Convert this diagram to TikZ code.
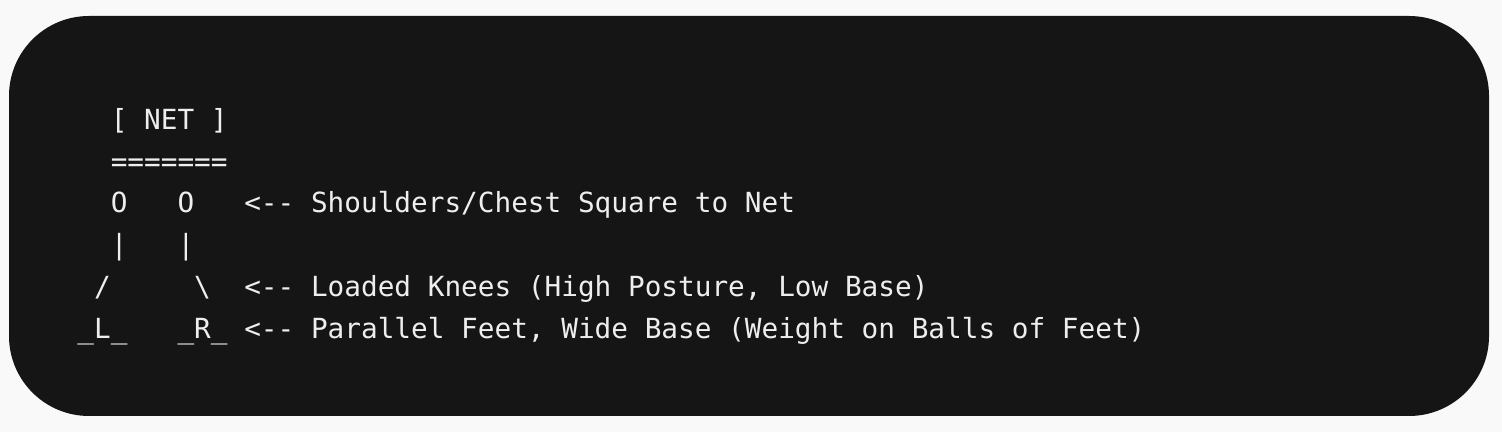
\documentclass[tikz,border=0pt]{standalone}
\usepackage{fontspec}
\setmonofont{DejaVu Sans Mono}
\definecolor{pagebg}{HTML}{F9F9F9}
\definecolor{termbg}{HTML}{151515}
\definecolor{termfg}{HTML}{EEEEEE}
\newlength{\cw}
\newcommand{\blank}[1]{\hspace*{#1\cw}}
\tikzset{
  asc/.style={anchor=base west,inner sep=0pt,text=termfg,
    font=\ttfamily\fontsize{13.86pt}{21pt}\selectfont},
}
\begin{document}
\settowidth{\cw}{\ttfamily\fontsize{13.86pt}{21pt}\selectfont x}
\begin{tikzpicture}[x=0.5pt,y=0.5pt]
	\fill[pagebg] (0,0) rectangle (1502,432);
	\fill[termbg,rounded corners=40pt] (9,16) rectangle (1489,416);

	% one column = 16.69 px, column 0 at x = 77
	\coordinate (Col0) at (77,0);

	\node[asc] (net)    at (77+2*16.69,302) {[ NET ]};
	\node[asc] (bar)    at (77+2*16.69,260) {=======};
	\node[asc] (heads)  at (77+2*16.69,219) {O\blank{3}O};
	\node[asc] (arms)   at (77+2*16.69,177) {|\blank{3}|};
	\node[asc] (knees)  at (77+1*16.69,135) {/\blank{5}\textbackslash};
	\node[asc] (feet)   at (77,93) {\_L\_\blank{3}\_R\_};

	\node[asc] (shoulders) at (77+10*16.69,219) {<-- Shoulders/Chest Square to Net};
	\node[asc] (loaded)    at (77+10*16.69,135) {<-- Loaded Knees (High Posture, Low Base)};
	\node[asc] (parallel)  at (77+10*16.69,93) {<-- Parallel Feet, Wide Base (Weight on Balls of Feet)};
\end{tikzpicture}
\end{document}
